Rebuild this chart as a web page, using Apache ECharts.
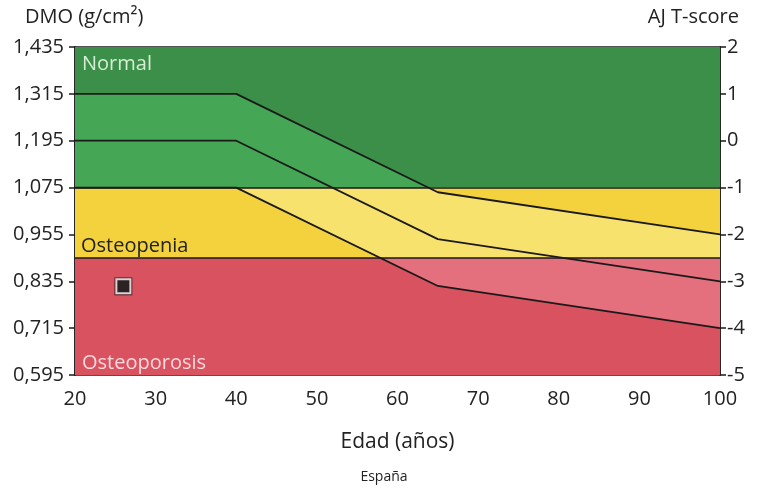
<!DOCTYPE html>
<html>
<head>
<meta charset="utf-8">
<script src="https://cdn.jsdelivr.net/npm/echarts@6/dist/echarts.min.js"></script>
<style>html,body{margin:0;padding:0;background:#fff}#c{width:768px;height:488px}</style>
</head>
<body>
<div id="c"></div>
<script>
// ---- data ----
const ages = [20, 40, 65, 100];
const plus1SD = [1.315, 1.315, 1.063, 0.955];   // g/cm2
const meanBMD = [1.195, 1.195, 0.943, 0.835];
const minus1SD = [1.075, 1.075, 0.823, 0.715];
const patient = [[26, 0.822]];
const bandLimits = { osteoporosis: -2.5, osteopenia: -1 }; // T-score
const bandNames = ['Normal', 'Osteopenia', 'Osteoporosis'];
const tMin = -5, tMax = 2;
const xTicksLabeled = [20, 30, 40, 50, 60, 70, 80, 90, 100];
// conversion between BMD and T-score (young adult reference)
const REF_MEAN = 1.195, REF_SD = 0.12;
const toT = v => (v - REF_MEAN) / REF_SD;
const toBMD = t => REF_MEAN + REF_SD * t;
const pts = arr => ages.map((a, i) => [a, toT(arr[i])]);

const FONT = 'Open Sans';
const col = {
  darkGreen: '#3b8f49', lightGreen: '#45a755',
  darkYellow: '#f4d23e', lightYellow: '#f8e26e',
  darkRed: '#d9525f', lightRed: '#e4707d'
};
const LINE = '#1a1a1a';

const chart = echarts.init(document.getElementById('c'));
chart.setOption({
  animation: false,
  textStyle: { fontFamily: FONT },
  title: [
    { text: 'DMO (g/cm²)', left: 20, top: 2, textStyle: { fontFamily: FONT, fontSize: 20, fontWeight: 'normal', color: '#222' } },
    { text: 'AJ T-score', right: 24, top: 2, textStyle: { fontFamily: FONT, fontSize: 20, fontWeight: 'normal', color: '#222' } },
    { text: 'España', left: 'center', top: 465, textStyle: { fontFamily: FONT, fontSize: 14, fontWeight: 'normal', color: '#222' } }
  ],
  grid: { left: 75, right: 48, top: 47, bottom: 113, show: true, borderColor: LINE, borderWidth: 1.5 },
  xAxis: {
    type: 'value', min: 20, max: 100, interval: 5,
    name: 'Edad (años)', nameLocation: 'middle', nameGap: 57,
    nameTextStyle: { fontFamily: FONT, fontSize: 21, color: '#222' },
    axisLine: { show: true, lineStyle: { color: LINE, width: 1.5 } },
    axisTick: { show: true, length: 6, lineStyle: { color: LINE, width: 1.5 } },
    axisLabel: { fontFamily: FONT, fontSize: 20, color: '#222', margin: 14,
      formatter: v => xTicksLabeled.indexOf(v) >= 0 ? String(v) : '' },
    splitLine: { show: false }
  },
  yAxis: [
    { type: 'value', min: tMin, max: tMax, interval: 1, position: 'left',
      axisLine: { show: true, lineStyle: { color: LINE, width: 1.5 } },
      axisTick: { show: true, length: 6, lineStyle: { color: LINE, width: 1.5 } },
      axisLabel: { fontFamily: FONT, fontSize: 20, color: '#222', margin: 11,
        formatter: v => toBMD(v).toFixed(3).replace('.', ',') },
      splitLine: { show: false } },
    { type: 'value', min: tMin, max: tMax, interval: 1, position: 'right',
      axisLine: { show: true, lineStyle: { color: LINE, width: 1.5 } },
      axisTick: { show: true, length: 6, lineStyle: { color: LINE, width: 1.5 } },
      axisLabel: { fontFamily: FONT, fontSize: 20, color: '#222', margin: 7 },
      splitLine: { show: false } }
  ],
  visualMap: [
    { type: 'piecewise', show: false, dimension: 1, seriesIndex: 1,
      pieces: [
        { min: -20, max: bandLimits.osteoporosis, color: col.lightRed },
        { min: bandLimits.osteoporosis, max: bandLimits.osteopenia, color: col.lightYellow },
        { min: bandLimits.osteopenia, max: 20, color: col.lightGreen }
      ] },
    { type: 'piecewise', show: false, dimension: 1, seriesIndex: 2,
      pieces: [
        { min: -20, max: bandLimits.osteoporosis, color: col.darkRed },
        { min: bandLimits.osteoporosis, max: bandLimits.osteopenia, color: col.darkYellow },
        { min: bandLimits.osteopenia, max: 20, color: col.darkGreen }
      ] }
  ],
  series: [
    { type: 'line', data: pts(meanBMD), symbol: 'none', silent: true,
      lineStyle: { opacity: 0 }, z: 1,
      markArea: { silent: true, z: 1,
        data: [
          [{ yAxis: bandLimits.osteopenia, itemStyle: { color: col.darkGreen } }, { yAxis: tMax }],
          [{ yAxis: bandLimits.osteoporosis, itemStyle: { color: col.darkYellow } }, { yAxis: bandLimits.osteopenia }],
          [{ yAxis: tMin, itemStyle: { color: col.darkRed } }, { yAxis: bandLimits.osteoporosis }]
        ] } },
    { type: 'line', data: pts(plus1SD), symbol: 'none', silent: true, z: 2,
      lineStyle: { width: 0 }, areaStyle: { opacity: 1, origin: 'start' } },
    { type: 'line', data: pts(minus1SD), symbol: 'none', silent: true, z: 3,
      lineStyle: { width: 0 }, areaStyle: { opacity: 1, origin: 'start' },
      markLine: { silent: true, symbol: 'none', label: { show: false }, z: 4,
        lineStyle: { color: LINE, width: 1.5, type: 'solid' },
        data: [{ yAxis: bandLimits.osteopenia }, { yAxis: bandLimits.osteoporosis }] } },
    { type: 'line', data: pts(plus1SD), symbol: 'none', silent: true, z: 5,
      lineStyle: { color: LINE, width: 1.8 } },
    { type: 'line', data: pts(meanBMD), symbol: 'none', silent: true, z: 5,
      lineStyle: { color: LINE, width: 1.8 } },
    { type: 'line', data: pts(minus1SD), symbol: 'none', silent: true, z: 5,
      lineStyle: { color: LINE, width: 1.8 },
      markArea: { silent: true, z: 10,
        data: [
          [{ yAxis: bandLimits.osteopenia, itemStyle: { color: 'rgba(0,0,0,0)' },
             label: { show: true, position: 'insideTopLeft', formatter: bandNames[0], offset: [2, 2],
                      fontFamily: FONT, fontSize: 20, color: '#d5eed3' } }, { yAxis: tMax }],
          [{ yAxis: bandLimits.osteoporosis, itemStyle: { color: 'rgba(0,0,0,0)' },
             label: { show: true, position: 'insideBottomLeft', formatter: bandNames[1], offset: [1, 3],
                      fontFamily: FONT, fontSize: 20, color: '#222' } }, { yAxis: bandLimits.osteopenia }],
          [{ yAxis: tMin, itemStyle: { color: 'rgba(0,0,0,0)' },
             label: { show: true, position: 'insideBottomLeft', formatter: bandNames[2], offset: [2, 3],
                      fontFamily: FONT, fontSize: 20, color: '#f6d9dd' } }, { yAxis: bandLimits.osteoporosis }]
        ] } },
    { type: 'scatter', data: patient.map(p => [p[0], toT(p[1])]), symbol: 'rect', symbolSize: 18, z: 6,
      itemStyle: { color: '#3a1c1f' } },
    { type: 'scatter', data: patient.map(p => [p[0], toT(p[1])]), symbol: 'rect', symbolSize: 14, z: 7,
      itemStyle: { color: '#222', borderColor: '#ffffff', borderWidth: 2 } }
  ]
});
</script>
</body>
</html>
